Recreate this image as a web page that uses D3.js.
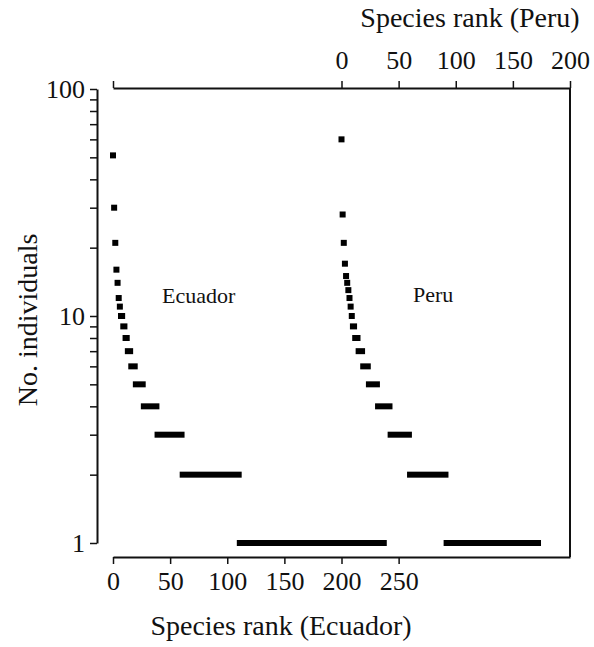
<!DOCTYPE html>
<html>
<head>
<meta charset="utf-8">
<script src="https://cdn.jsdelivr.net/npm/d3@7"></script>
<style>
  html, body { margin: 0; padding: 0; background: #fff; }
  svg { display: block; }
  text { font-family: "Liberation Serif", "Times New Roman", serif; fill: #111; }
</style>
</head>
<body>
<svg id="chart" width="594" height="647"></svg>
<script>
// ---- Data: abundance classes (no. individuals) and number of species in each ----
const ecuadorAbundance = [51, 30, 21, 16, 14, 12, 11, 10, 9, 8, 7, 6, 5, 4, 3, 2, 1];
const ecuadorSpeciesCount = [1, 1, 1, 1, 1, 1, 1, 2, 2, 2, 3, 4, 7, 12, 22, 50, 127];

const peruAbundance = [60, 28, 21, 17, 15, 14, 13, 12, 11, 10, 9, 8, 7, 6, 5, 4, 3, 2, 1];
const peruSpeciesCount = [1, 1, 1, 1, 1, 1, 1, 1, 1, 1, 2, 3, 4, 5, 8, 11, 17, 32, 81];

const bottomTicks = [0, 50, 100, 150, 200, 250];
const topTicks = [-200, 0, 50, 100, 150, 200];
const yTicks = [1, 2, 3, 4, 5, 6, 7, 8, 9, 10, 20, 30, 40, 50, 60, 70, 80, 90, 100];
const yLabelled = [1, 10, 100];

// ---- Build rank ranges from the counts ----
function ranges(abund, counts) {
  let start = 0;
  return abund.map((v, i) => {
    const r = { value: v, start: start, end: start + counts[i] - 1 };
    start += counts[i];
    return r;
  });
}
const ecuadorData = ranges(ecuadorAbundance, ecuadorSpeciesCount);
const peruData = ranges(peruAbundance, peruSpeciesCount);

// ---- Scales ----
const svg = d3.select("#chart");
const xEc = d3.scaleLinear().domain([0, 400]).range([113, 570]);
const xPe = d3.scaleLinear().domain([-200, 200]).range([113, 570]);
const y = d3.scaleLog().domain([1, 100]).range([543, 89]);

const tickFont = 26;

// ---- Left axis ----
const gy = svg.append("g").attr("transform", "translate(97,0)")
  .call(d3.axisLeft(y).tickValues(yTicks)
    .tickFormat(d => yLabelled.includes(d) ? d : "")
    .tickSize(7).tickSizeOuter(0).tickPadding(5));

// ---- Bottom axis (Ecuador) ----
const gx = svg.append("g").attr("transform", "translate(0,557)")
  .call(d3.axisBottom(xEc).tickValues(bottomTicks)
    .tickSize(7).tickSizeOuter(0).tickPadding(8));

// ---- Top axis (Peru) ----
const gt = svg.append("g").attr("transform", "translate(0,88)")
  .call(d3.axisTop(xPe).tickValues(topTicks)
    .tickFormat(d => d < 0 ? "" : d)
    .tickSize(7).tickSizeOuter(0).tickPadding(12));

[gy, gx, gt].forEach(g => {
  g.select(".domain").attr("stroke", "#111").attr("stroke-width", 2);
  g.selectAll(".tick line").attr("stroke", "#111").attr("stroke-width", 1.5);
  g.selectAll(".tick text")
    .attr("font-family", "Liberation Serif, Times New Roman, serif")
    .attr("font-size", tickFont).attr("fill", "#111");
});

// ---- Right border ----
svg.append("line")
  .attr("x1", xEc(400)).attr("x2", xEc(400))
  .attr("y1", 88).attr("y2", 557)
  .attr("stroke", "#111").attr("stroke-width", 2);

// ---- Marks ----
const half = 3;
function drawSeries(data, xs) {
  svg.append("g").selectAll("rect").data(data).join("rect")
    .attr("x", d => xs(d.start) - half)
    .attr("width", d => xs(d.end) - xs(d.start) + 2 * half)
    .attr("y", d => y(d.value) - half)
    .attr("height", 2 * half)
    .attr("fill", "#000");
}
drawSeries(ecuadorData, xEc);
drawSeries(peruData, d => xPe(d));

// ---- Labels ----
svg.append("text").attr("x", 470).attr("y", 27)
  .attr("text-anchor", "middle").attr("font-size", 28)
  .text("Species rank (Peru)");
svg.append("text").attr("x", 281).attr("y", 635)
  .attr("text-anchor", "middle").attr("font-size", 28)
  .text("Species rank (Ecuador)");
svg.append("text")
  .attr("transform", "translate(37,320) rotate(-90)")
  .attr("text-anchor", "middle").attr("font-size", 28)
  .text("No. individuals");
svg.append("text").attr("x", 162).attr("y", 303)
  .attr("font-size", 22).text("Ecuador");
svg.append("text").attr("x", 413).attr("y", 302)
  .attr("font-size", 22).text("Peru");
</script>
</body>
</html>
